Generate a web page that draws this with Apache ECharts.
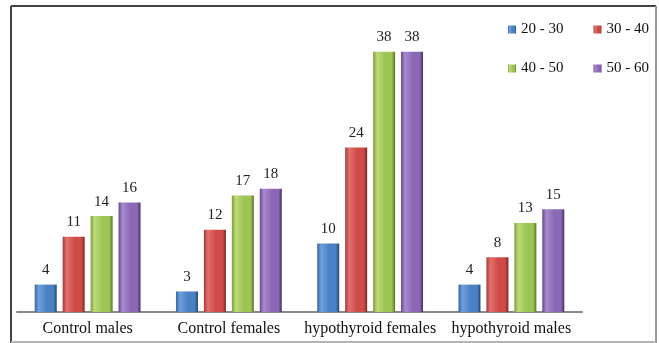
<!DOCTYPE html>
<html>
<head>
<meta charset="utf-8">
<script src="https://cdn.jsdelivr.net/npm/echarts@6/dist/echarts.min.js"></script>
<style>
  html, body { margin: 0; padding: 0; background: #fff; }
  #chart { width: 659px; height: 343px; }
</style>
</head>
<body>
<div id="chart"></div>
<script>
  // groups along the x axis
  var categories = ['Control males', 'Control females', 'hypothyroid females', 'hypothyroid males']
  // age bands (legend)
  var seriesNames = ['20 - 30', '30 - 40', '40 - 50', '50 - 60']
  var age20to30 = [4, 3, 10, 4]
  var age30to40 = [11, 12, 24, 8]
  var age40to50 = [14, 17, 38, 13]
  var age50to60 = [16, 18, 38, 15]

  // dark, light, base, edge
  var palette = [
    ['#3566a3', '#6fa0dc', '#4a80c4', '#23456f'],
    ['#a33a37', '#e3706c', '#cf4b47', '#7a2623'],
    ['#7f9c3e', '#bcdb78', '#9dc553', '#5b722a'],
    ['#64498a', '#a88ad0', '#8a68b6', '#45305f'],
  ]

  function bevel (c) {
    return new echarts.graphic.LinearGradient(0, 0, 1, 0, [
      {offset: 0, color: c[0]},
      {offset: 0.18, color: c[1]},
      {offset: 0.55, color: c[2]},
      {offset: 0.85, color: c[2]},
      {offset: 1, color: c[3]},
    ])
  }

  var values = [age20to30, age30to40, age40to50, age50to60]
  var series = []
  for (var i = 0; i < seriesNames.length; i++) {
    series.push({
      name: seriesNames[i],
      type: 'bar',
      data: values[i],
      barWidth: 22,
      barGap: '27%',
      itemStyle: {color: bevel(palette[i])},
      label: {
        show: true,
        position: 'top',
        distance: 7,
        color: '#222',
        fontFamily: 'Liberation Serif',
        fontSize: 15,
      },
    })
  }

  var legendText = {color: '#111', fontFamily: 'Liberation Serif', fontSize: 15}

  var chart = echarts.init(document.getElementById('chart'))
  chart.setOption({
    animation: false,
    legend: [
      {
        data: seriesNames.slice(0, 2),
        left: 503, top: 17,
        icon: 'rect', itemWidth: 8, itemHeight: 8, itemGap: 30, itemStyle: {borderWidth: 0},
        textStyle: legendText,
      },
      {
        data: seriesNames.slice(2, 4),
        left: 503, top: 56,
        icon: 'rect', itemWidth: 8, itemHeight: 8, itemGap: 30,
        textStyle: legendText,
      },
    ],
    grid: {left: 17, right: 77, top: 38, bottom: 31, containLabel: false},
    xAxis: {
      type: 'category',
      data: categories,
      axisLine: {lineStyle: {color: '#8a8a8a', width: 2}},
      axisTick: {show: false},
      axisLabel: {
        color: '#111',
        fontFamily: 'Liberation Serif',
        fontSize: 16,
        margin: 9,
        interval: 0,
      },
    },
    yAxis: {
      type: 'value',
      min: 0,
      max: 40,
      show: false,
    },
    graphic: [
      {type: 'line', shape: {x1: 11, y1: 6, x2: 656, y2: 6}, style: {stroke: '#444', lineWidth: 2}},
      {type: 'line', shape: {x1: 11, y1: 6, x2: 11, y2: 343}, style: {stroke: '#444', lineWidth: 2}},
      {type: 'line', shape: {x1: 656, y1: 6, x2: 656, y2: 343}, style: {stroke: '#9a9a9a', lineWidth: 2}},
      {type: 'line', shape: {x1: 11, y1: 342, x2: 656, y2: 342}, style: {stroke: '#b5b5b5', lineWidth: 2}},
    ],
    series: series,
  })
</script>
</body>
</html>
